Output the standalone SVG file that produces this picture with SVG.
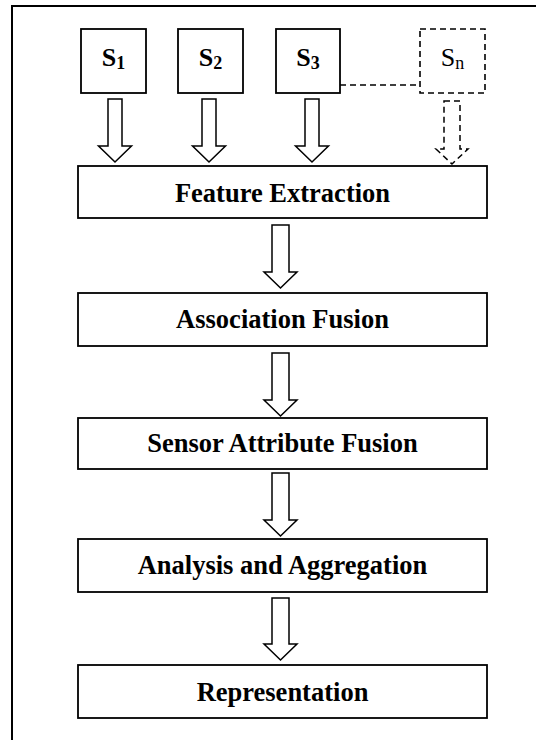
<svg xmlns="http://www.w3.org/2000/svg" width="536" height="740" viewBox="0 0 536 740">
<style>
.box{fill:#fff;stroke:#000;stroke-width:1.8}
.dbox{fill:#fff;stroke:#000;stroke-width:1.6;stroke-dasharray:6,4}
.arr{fill:#fff;stroke:#000;stroke-width:1.5;stroke-linejoin:miter}
.darr{fill:none;stroke:#000;stroke-width:1.5;stroke-dasharray:6,4}
.lbl{font-family:"Liberation Serif","Times New Roman",serif;font-weight:bold;font-size:26.5px;text-anchor:middle;fill:#000}
.s{font-family:"Liberation Serif","Times New Roman",serif;font-size:26px;text-anchor:middle;fill:#000}
</style>
<rect x="0" y="0" width="536" height="740" fill="#fff"/>
<rect x="12" y="6" width="600" height="800" fill="none" stroke="#000" stroke-width="2"/>
<g id="connectors">
<line x1="340" y1="85" x2="420" y2="85" stroke="#000" stroke-width="1.6" stroke-dasharray="6,4"/>
<polygon class="arr" points="108,99 122,99 122,146 131.5,146 115,162 98.5,146 108,146"/>
<polygon class="arr" points="202,99 216,99 216,146 225.5,146 209,162 192.5,146 202,146"/>
<polygon class="arr" points="305,99 319,99 319,146 328.5,146 312,162 295.5,146 305,146"/>
<polygon class="darr" points="444,101 460,101 460,149 468,149 452,164 436,149 444,149"/>
<polygon class="arr" points="272,225 289,225 289,272 297,272 280.5,288 264,272 272,272"/>
<polygon class="arr" points="272,353 289,353 289,400 297,400 280.5,416 264,400 272,400"/>
<polygon class="arr" points="272,473 289,473 289,520 297,520 280.5,536 264,520 272,520"/>
<polygon class="arr" points="272,598 289,598 289,644 297,644 280.5,660 264,644 272,644"/>
</g>
<g id="s1"><rect class="box" x="81" y="29" width="65" height="64"/><text class="s" x="113.5" y="66" font-weight="bold">S<tspan font-size="18" dy="3">1</tspan></text></g>
<g id="s2"><rect class="box" x="178" y="29" width="65" height="64"/><text class="s" x="210.5" y="66" font-weight="bold">S<tspan font-size="18" dy="3">2</tspan></text></g>
<g id="s3"><rect class="box" x="276" y="29" width="64" height="64"/><text class="s" x="308" y="66" font-weight="bold">S<tspan font-size="18" dy="3">3</tspan></text></g>
<g id="sn"><rect class="dbox" x="420" y="29" width="65" height="64"/><text class="s" x="452.5" y="66">S<tspan font-size="18" dy="3">n</tspan></text></g>
<g id="feature"><rect class="box" x="78" y="166" width="409" height="52"/><text class="lbl" x="282.5" y="201.5">Feature Extraction</text></g>
<g id="association"><rect class="box" x="78" y="293" width="409" height="53"/><text class="lbl" x="282.5" y="328">Association Fusion</text></g>
<g id="sensor"><rect class="box" x="78" y="418" width="409" height="51"/><text class="lbl" x="282.5" y="451.5">Sensor Attribute Fusion</text></g>
<g id="analysis"><rect class="box" x="78" y="539" width="409" height="53"/><text class="lbl" x="282.5" y="574">Analysis and Aggregation</text></g>
<g id="representation"><rect class="box" x="78" y="665" width="409" height="53"/><text class="lbl" x="282.5" y="701">Representation</text></g>
</svg>
